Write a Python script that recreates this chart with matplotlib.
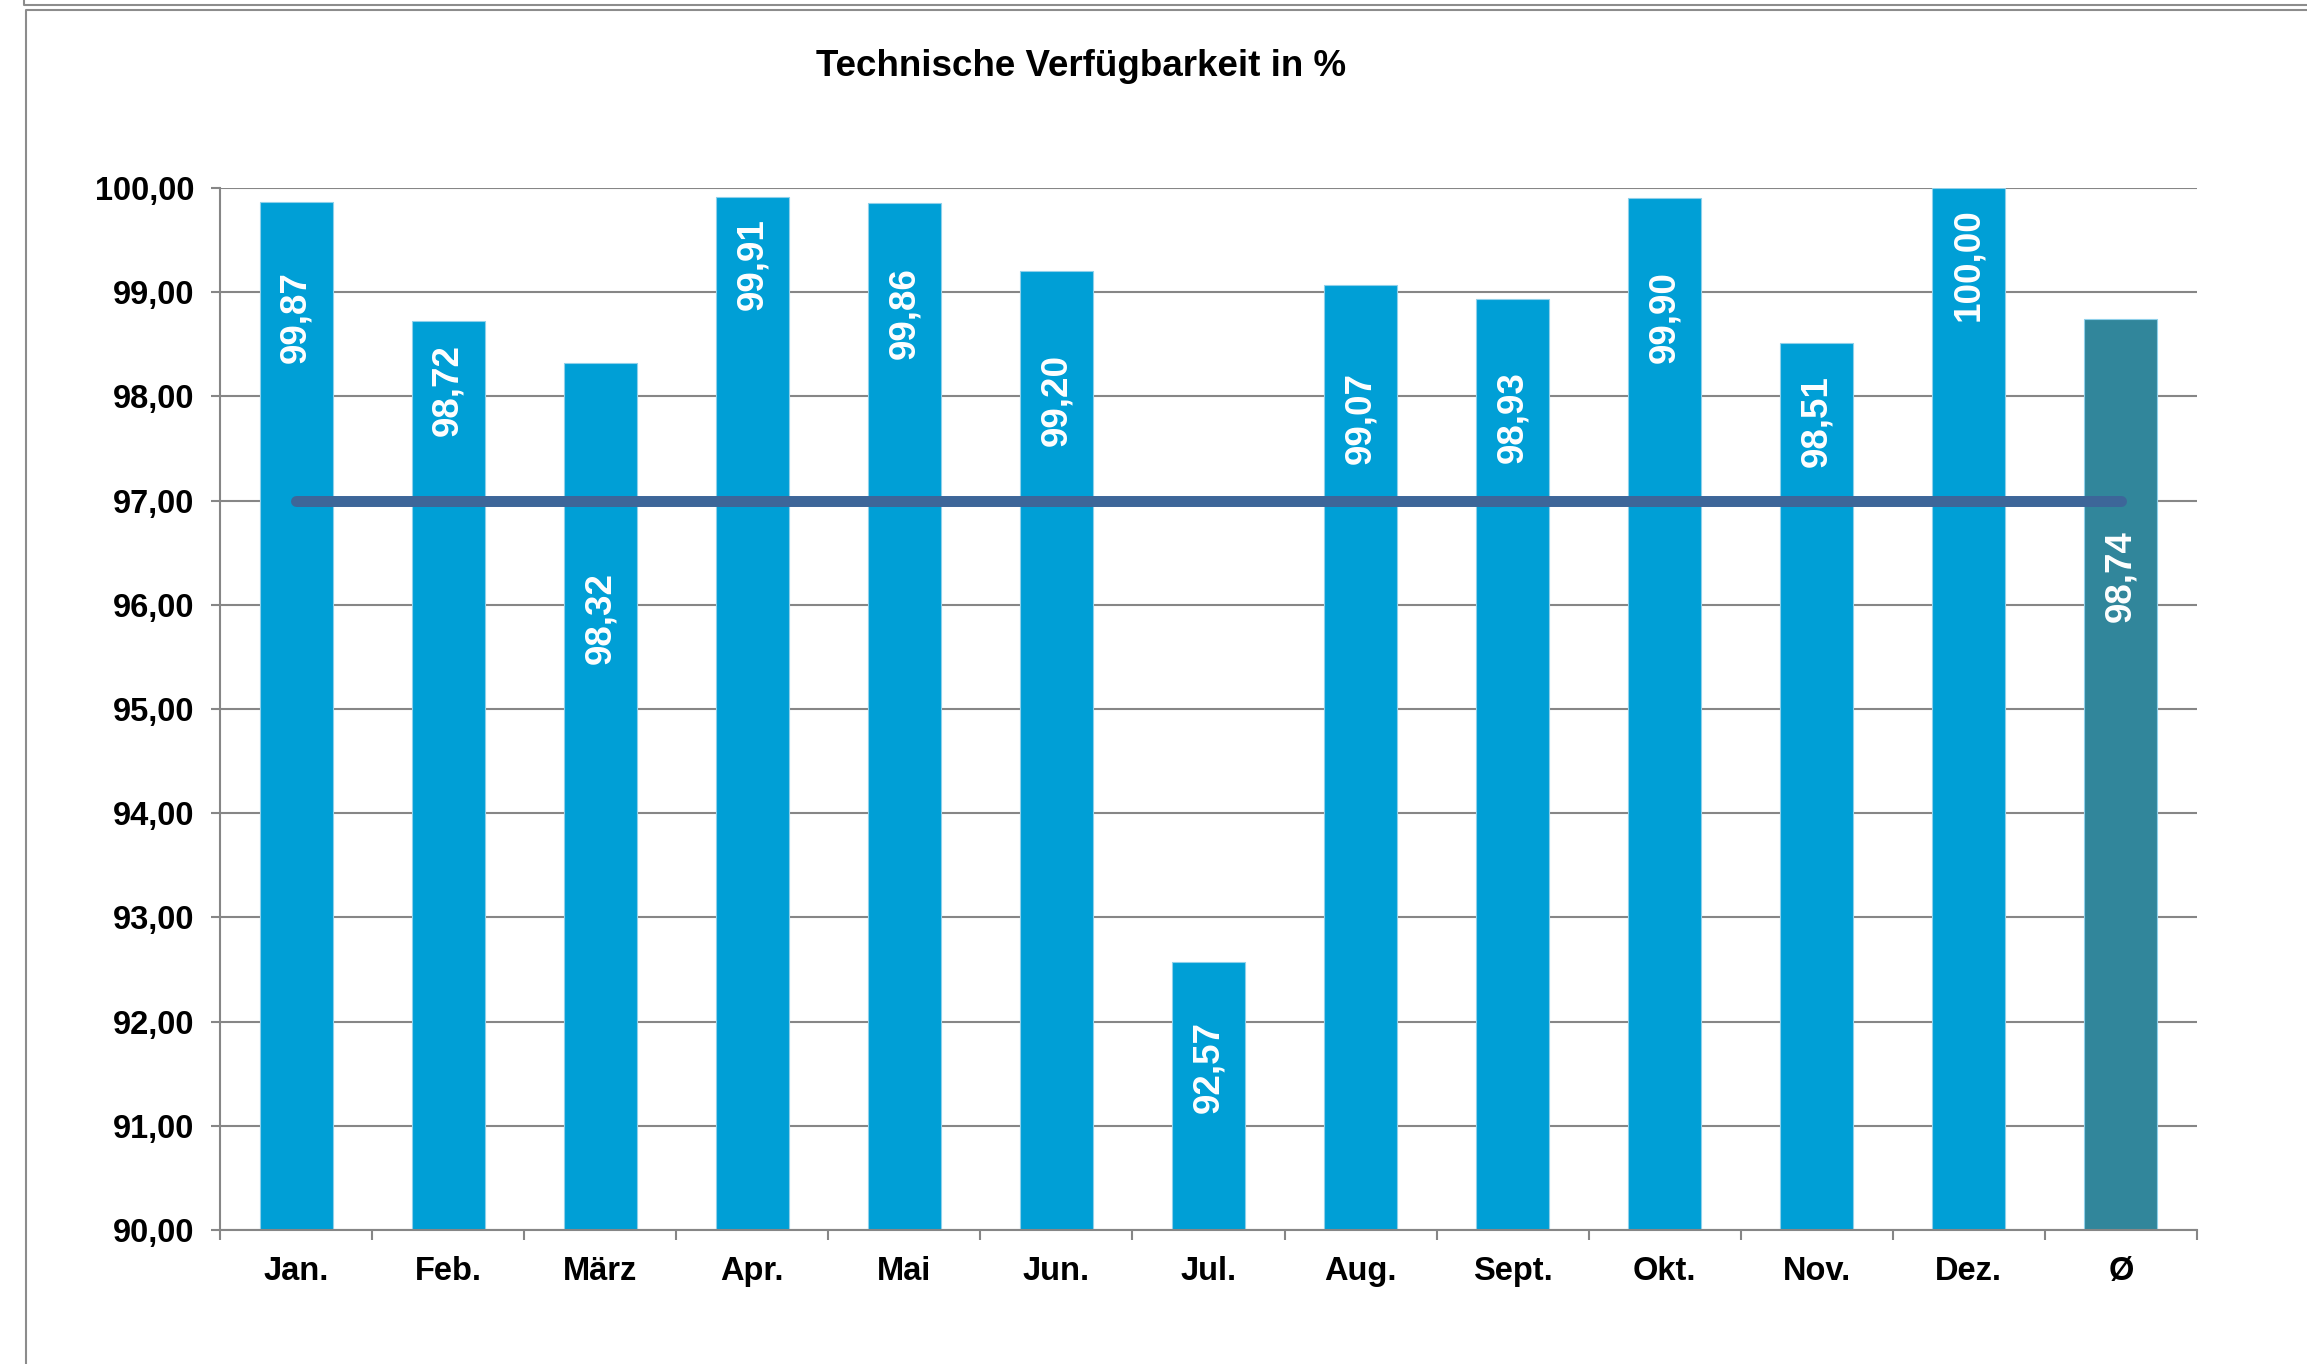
import matplotlib
matplotlib.use("Agg")
import matplotlib.pyplot as plt
from matplotlib.lines import Line2D

plt.rcParams['font.family'] = ['Liberation Sans', 'DejaVu Sans']

# data
monate = ["Jan.", "Feb.", "März", "Apr.", "Mai", "Jun.", "Jul.", "Aug.",
          "Sept.", "Okt.", "Nov.", "Dez.", "Ø"]
verfuegbarkeit = [99.87, 98.72, 98.32, 99.91, 99.86, 99.20, 92.57, 99.07,
                  98.93, 99.90, 98.51, 100.00, 98.74]
zielwert = [97.0, 97.0, 97.0, 97.0, 97.0, 97.0, 97.0, 97.0, 97.0, 97.0,
            97.0, 97.0, 97.0]
# where the value labels sit (they were placed by hand in the original)
label_y = [98.76, 98.06, 95.87, 99.27, 98.80, 97.97, 91.56, 97.79,
           97.80, 98.76, 97.76, 99.26, 96.28]

blau = "#009FD6"
petrol = "#31869B"
linie = "#3D6699"
grau = "#868686"

fig = plt.figure(figsize=(23.07, 13.64), dpi=100)
ax = fig.add_axes([0.0954, 0.0982, 0.9523 - 0.0954, 0.8622 - 0.0982])

x = list(range(len(monate)))
farben = [blau] * (len(monate) - 1) + [petrol]
ax.bar(x, verfuegbarkeit, width=0.48, color=farben, edgecolor="#8fd0ea",
       linewidth=0.8, zorder=2)
ax.plot(x, zielwert, color=linie, linewidth=7.9, solid_capstyle="round", zorder=3)

for xi, v, ly in zip(x, verfuegbarkeit, label_y):
    ax.text(xi, ly, f"{v:.2f}".replace(".", ","), rotation=90, color="white",
            fontsize=26.5, fontweight="bold", ha="center", va="center", zorder=4)

ax.set_ylim(90, 100)
ax.set_xlim(-0.5, len(monate) - 0.5)
ax.set_yticks(range(90, 101))
ax.set_yticklabels([f"{t},00" for t in range(90, 101)], fontsize=23.5,
                   fontweight="bold")
ax.set_xticks(x)
ax.set_xticklabels(monate, fontsize=23.5, fontweight="bold")
ax.set_xticks([i - 0.5 for i in range(len(monate) + 1)], minor=True)
ax.tick_params(axis="x", which="major", length=0, pad=19)
ax.tick_params(axis="x", which="minor", length=7, width=1.5, color=grau,
               direction="out")
ax.tick_params(axis="y", length=6.5, width=1.5, color=grau, pad=12)

ax.grid(axis="y", color=grau, linewidth=1.5, zorder=0)
ax.set_axisbelow(True)
for s in ["top", "right"]:
    ax.spines[s].set_visible(False)
for s in ["left", "bottom"]:
    ax.spines[s].set_color(grau)
    ax.spines[s].set_linewidth(1.5)

fig.text(1081 / 2307, 1 - 67 / 1364, "Technische Verfügbarkeit in %",
         fontsize=26.5, fontweight="bold", ha="center", va="center")

# frame of the chart object
W, H = 2307, 1364
for xs, ys in [([24, 24, W], [0, 5, 5]), ([W, 26, 26], [10, 10, H])]:
    fig.add_artist(Line2D([v / W for v in xs], [1 - v / H for v in ys],
                          color="#8c8c8c", linewidth=1.5))

plt.savefig("out.png", dpi=100)
